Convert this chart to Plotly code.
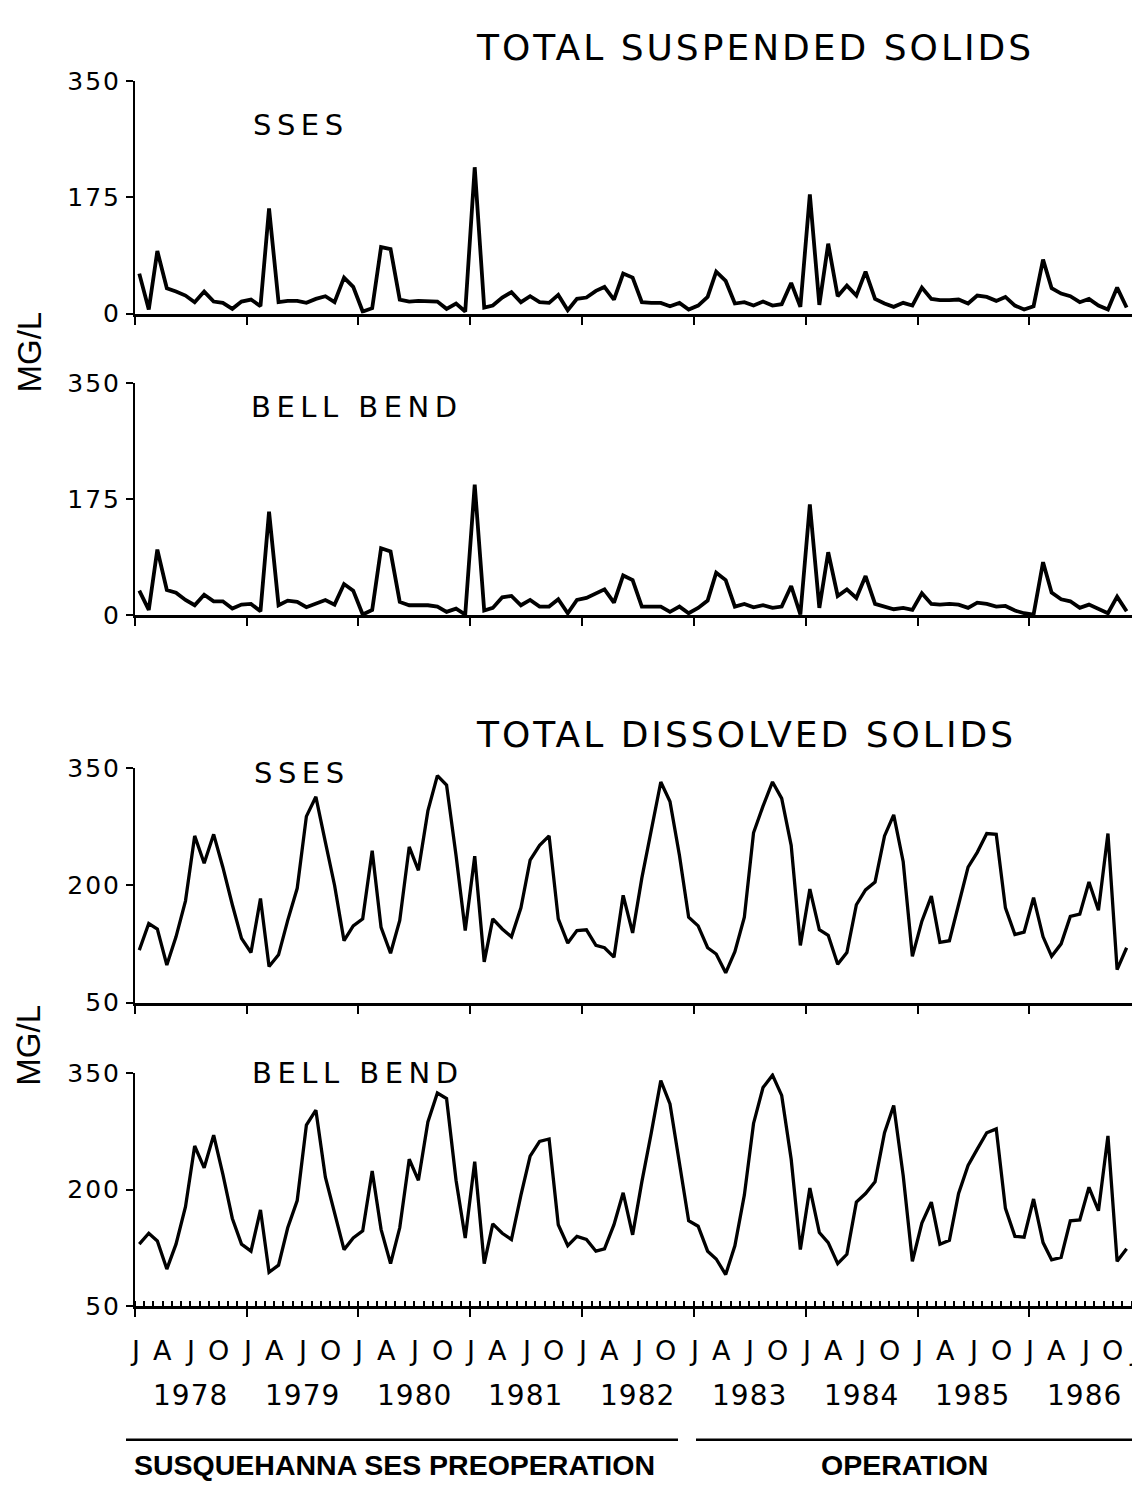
import plotly.graph_objects as go

# ---------------- data (monthly, Jan 1978 - Nov 1986) ----------------
N_MONTHS = 107
dates = [f"{1978 + m // 12}-{m % 12 + 1:02d}-15" for m in range(N_MONTHS)]

tss_sses = [60, 6, 94, 38, 33, 27, 17, 33, 18, 16, 7, 18,
            21, 11, 158, 17, 19, 19, 16, 22, 26, 17, 54, 40,
            3, 8, 100, 97, 21, 18, 19, 19, 18, 7, 15, 3,
            220, 9, 12, 24, 32, 17, 26, 17, 16, 28, 5, 22,
            24, 34, 40, 21, 60, 54, 17, 16, 16, 11, 16, 6,
            12, 25, 63, 49, 15, 17, 12, 18, 12, 14, 46, 10,
            179, 13, 105, 26, 42, 27, 63, 22, 15, 10, 16, 12,
            39, 22, 20, 20, 21, 15, 27, 25, 19, 25, 12, 6,
            11, 81, 38, 30, 26, 17, 22, 12, 6, 39, 9]

tss_bell = [37, 8, 99, 38, 34, 23, 15, 31, 21, 21, 10, 16,
            17, 6, 156, 15, 22, 20, 12, 17, 23, 16, 47, 37,
            1, 8, 101, 96, 20, 15, 15, 15, 13, 5, 10, 1,
            197, 7, 11, 27, 29, 15, 23, 13, 13, 24, 3, 23,
            26, 33, 39, 19, 60, 53, 13, 13, 13, 5, 13, 3,
            11, 22, 64, 53, 13, 17, 12, 15, 11, 13, 44, 1,
            167, 11, 95, 29, 39, 26, 59, 17, 13, 9, 11, 8,
            33, 17, 16, 17, 16, 11, 19, 17, 13, 14, 7, 3,
            1, 80, 34, 24, 21, 11, 16, 9, 3, 28, 6]

tds_sses = [117, 151, 144, 98, 134, 180, 263, 228, 265, 223, 175, 132,
            114, 183, 96, 111, 155, 196, 288, 313, 255, 200, 129, 148,
            157, 244, 146, 113, 155, 249, 219, 295, 340, 328, 238, 142,
            237, 102, 157, 144, 134, 171, 232, 251, 263, 157, 126, 142,
            143, 123, 120, 108, 187, 139, 209, 269, 332, 307, 238, 159,
            148, 120, 112, 88, 115, 159, 267, 301, 332, 311, 251, 123,
            195, 143, 136, 99, 114, 175, 194, 204, 263, 290, 230, 109,
            154, 186, 127, 129, 177, 223, 242, 266, 265, 171, 137, 140,
            184, 134, 109, 125, 160, 163, 204, 168, 266, 92, 120]

tds_bell = [130, 144, 134, 98, 130, 178, 256, 228, 270, 220, 163, 130,
            121, 174, 94, 103, 151, 186, 283, 302, 216, 172, 123, 138,
            147, 224, 149, 105, 151, 239, 212, 287, 324, 317, 212, 138,
            236, 105, 156, 144, 136, 193, 243, 262, 265, 155, 128, 140,
            136, 121, 124, 155, 196, 142, 210, 273, 340, 310, 233, 160,
            153, 121, 111, 91, 128, 193, 285, 331, 347, 321, 239, 123,
            202, 145, 132, 105, 117, 184, 195, 210, 273, 308, 218, 108,
            157, 184, 130, 135, 195, 231, 252, 273, 278, 176, 140, 139,
            188, 132, 110, 113, 160, 161, 203, 173, 269, 108, 124]

panel_labels = ["SSES", "BELL BEND", "SSES", "BELL BEND"]
section_titles = ["TOTAL SUSPENDED SOLIDS", "TOTAL DISSOLVED SOLIDS"]
tss_ticks = [0, 175, 350]
tds_ticks = [50, 200, 350]
quarter_letters = ["J", "A", "J", "O"]
quarter_months = ["01", "04", "07", "10"]
years = [1978, 1979, 1980, 1981, 1982, 1983, 1984, 1985, 1986]
period_labels = ["SUSQUEHANNA SES PREOPERATION", "OPERATION"]
y_unit = "MG/L"

# ---------------- layout helpers ----------------
W, H = 1140, 1488
def px(x):
    return x / W
def py(y):
    return 1 - y / H

FONT = "DejaVu Sans"
def spaced(t, s):
    return f'<span style="letter-spacing:{s}px">{t}</span>'

series = [tss_sses, tss_bell, tds_sses, tds_bell]
line_w = [3.8, 3.8, 3.3, 3.3]
ranges = [[0, 350], [0, 350], [50, 350], [50, 350]]
tickvals = [tss_ticks, tss_ticks, tds_ticks, tds_ticks]
dom_px = [(60, 297.3), (368.3, 605), (760.7, 1000), (1071.7, 1310)]
x_dom = [px(127), px(1133)]

fig = go.Figure()
layout = dict(width=W, height=H, margin=dict(l=0, r=0, t=0, b=0),
              paper_bgcolor="white", plot_bgcolor="white", showlegend=False)

for i in range(4):
    k = "" if i == 0 else str(i + 1)
    fig.add_trace(go.Scatter(x=dates, y=series[i], mode="lines",
                             line=dict(color="black", width=line_w[i]),
                             xaxis="x" + k, yaxis="y" + k,
                             hoverinfo="x+y"))
    xa = dict(domain=x_dom, anchor="y" + k, type="date",
              range=["1978-01-01", "1987-01-01"],
              showline=True, linecolor="black", linewidth=3,
              ticks="outside", ticklen=8, tickwidth=2, tickcolor="black",
              tick0="1978-01-01", dtick="M12", showticklabels=False,
              showgrid=False, zeroline=False)
    if i == 3:
        xa["minor"] = dict(dtick="M1", tick0="1978-01-01", ticks="inside",
                           ticklen=5, tickwidth=1.5, tickcolor="black",
                           showgrid=False)
    ya = dict(domain=[py(dom_px[i][1]), py(dom_px[i][0])], anchor="x" + k,
              range=ranges[i], tickvals=tickvals[i],
              ticktext=[spaced(str(v), 2) for v in tickvals[i]],
              showline=True, linecolor="black", linewidth=2,
              ticks="outside", ticklen=7, tickwidth=2, tickcolor="black",
              tickfont=dict(family=FONT, size=25, color="black"),
              showgrid=False, zeroline=False)
    layout["xaxis" + k] = xa
    layout["yaxis" + k] = ya

ann = []
# section titles
for t, (cx, cy) in zip(section_titles, [(747, 26), (738, 727)]):
    ann.append(dict(text=spaced(t, 3), x=px(cx), y=py(cy), xref="paper", yref="paper",
                    xanchor="center", yanchor="middle", showarrow=False,
                    font=dict(family=FONT, size=36, color="black")))
# panel labels
for t, (cx, cy) in zip(panel_labels, [(293, 105.5), (349, 392.5), (294, 766), (350, 1071.5)]):
    ann.append(dict(text=spaced(t, 5.5), x=px(cx), y=py(cy), xref="paper", yref="paper",
                    xanchor="center", yanchor="middle", showarrow=False,
                    font=dict(family=FONT, size=29, color="black")))
# y units
for cy in [336, 1043]:
    ann.append(dict(text=y_unit, x=px(21), y=py(cy), xref="paper", yref="paper",
                    xanchor="center", yanchor="middle", showarrow=False, textangle=-90,
                    font=dict(family="Liberation Sans", size=33, color="black")))
# quarter letters on bottom axis
q_dates, q_text = [], []
for yr in years:
    for mm, letter in zip(quarter_months, quarter_letters):
        q_dates.append(f"{yr}-{mm}-01")
        q_text.append(letter)
q_dates.append(f"{years[-1] + 1}-01-01")
q_text.append(quarter_letters[0])
for j, (d, t) in enumerate(zip(q_dates, q_text)):
    ann.append(dict(text=t, x=d, y=py(1355), xref="x4", yref="paper",
                    xanchor="center", yanchor="middle", showarrow=False,
                    xshift=-7 if j == len(q_dates) - 1 else 0,
                    font=dict(family=FONT, size=27, color="black")))
for yr in years:
    ann.append(dict(text=spaced(str(yr), 1), x=f"{yr}-07-01", y=py(1401), xref="x4", yref="paper",
                    xanchor="center", yanchor="middle", showarrow=False,
                    font=dict(family=FONT, size=28, color="black")))
# period labels
for t, cx in zip(period_labels, [386, 896]):
    ann.append(dict(text=f"<b>{t}</b>", x=px(cx), y=py(1472), xref="paper", yref="paper",
                    xanchor="center", yanchor="middle", showarrow=False,
                    font=dict(family="Liberation Sans", size=28.5, color="black")))
layout["annotations"] = ann

layout["shapes"] = [
    dict(type="line", xref="paper", yref="paper", x0=px(118), x1=px(670),
         y0=py(1446), y1=py(1446), line=dict(color="black", width=2.5)),
    dict(type="line", xref="paper", yref="paper", x0=px(688), x1=px(1130),
         y0=py(1446), y1=py(1446), line=dict(color="black", width=2.5)),
]

fig.update_layout(**layout)
fig.write_html("out.html")
